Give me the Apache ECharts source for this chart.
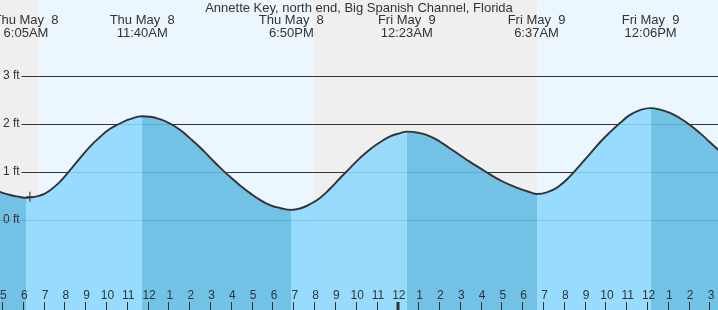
<!DOCTYPE html>
<html><head><meta charset="utf-8">
<script src="https://cdn.jsdelivr.net/npm/echarts@6/dist/echarts.min.js"></script>
<style>html,body{margin:0;padding:0;background:#fff}#c{width:718px;height:310px}</style>
</head><body><div id="c"></div>
<script>
// ---------------- data ----------------
const chartTitle = 'Annette Key, north end, Big Spanish Channel, Florida';
const extremeDays   = ['Thu May  8', 'Thu May  8', 'Thu May  8', 'Fri May  9', 'Fri May  9', 'Fri May  9'];
const extremeClocks = ['6:05AM', '11:40AM', '6:50PM', '12:23AM', '6:37AM', '12:06PM'];
const extremeTypes  = ['Low', 'High', 'Low', 'High', 'Low', 'High'];
const sunriseTimes  = [['Thu May  8', '6:42AM'], ['Fri May  9', '6:39AM']];
const sunsetTimes   = [['Thu May  8', '7:53PM']];
const midnightTicks = [['Fri May  9', '12:00AM']];
const feetTicks = [0, 1, 2, 3];
// hours since Thu May 8 00:00, tide height in ft
const curveHours = [4.80, 5.32, 5.80, 6.08, 6.76, 7.24, 7.72, 8.20, 8.68, 9.16, 9.64, 10.12, 10.60, 11.08, 11.67,
  12.04, 12.52, 13.00, 13.48, 13.97, 14.45, 14.93, 15.41, 15.89, 16.37, 16.85, 17.33, 17.81, 18.29, 18.83,
  19.25, 19.73, 20.21, 20.69, 21.17, 21.65, 22.13, 22.61, 23.10, 23.58, 24.06, 24.38,
  25.02, 25.50, 25.98, 26.46, 26.94, 27.42, 27.90, 28.38, 28.86, 29.34, 29.82, 30.30, 30.62,
  31.26, 31.74, 32.22, 32.70, 33.19, 33.67, 34.15, 34.63, 35.11, 35.59, 36.10,
  36.55, 37.03, 37.51, 37.99, 38.47, 38.95, 39.40];
const curveFeet = [0.59, 0.52, 0.48, 0.46, 0.51, 0.62, 0.80, 1.04, 1.29, 1.53, 1.73, 1.90, 2.01, 2.10, 2.16,
  2.15, 2.10, 2.01, 1.88, 1.70, 1.51, 1.30, 1.09, 0.90, 0.72, 0.56, 0.42, 0.31, 0.25, 0.21,
  0.24, 0.33, 0.46, 0.65, 0.87, 1.08, 1.29, 1.47, 1.62, 1.74, 1.81, 1.84,
  1.81, 1.74, 1.63, 1.49, 1.35, 1.21, 1.08, 0.95, 0.83, 0.73, 0.65, 0.58, 0.54,
  0.60, 0.72, 0.91, 1.14, 1.38, 1.62, 1.83, 2.02, 2.19, 2.29, 2.33,
  2.30, 2.23, 2.12, 1.98, 1.81, 1.62, 1.44];
const nowMarker = [[6.27, 0.485]];

// ---------------- helpers ----------------
function toHours(day, clock) {
  const d = /9\s*$/.test(day) ? 24 : 0;
  const m = clock.match(/(\d+):(\d+)(AM|PM)/);
  let h = (+m[1]) % 12; if (m[3] === 'PM') h += 12;
  return d + h + (+m[2]) / 60;
}
const extremeHours = extremeDays.map((d, i) => toHours(d, extremeClocks[i]));
const riseH = sunriseTimes.map(s => toHours(s[0], s[1]));
const setH = sunsetTimes.map(s => toHours(s[0], s[1]));
const midH = midnightTicks.map(s => toHours(s[0], s[1]));

// ---------------- layout ----------------
const W = 718, H = 310;
const viewStart = 4.834, viewEnd = 39.337;
const pxPerHour = W / (viewEnd - viewStart);
const axisMin = Math.floor(viewStart), axisMax = Math.ceil(viewEnd);
const gridLeft = -(viewStart - axisMin) * pxPerHour;
const gridRight = -(axisMax - viewEnd) * pxPerHour;
const yMin = -1.875, yMax = 4.583;
const tickLen = 8;

const nightColor = '#efefef', dayColor = '#ebf6ff';
const risingColor = 'rgb(140,216,255)', fallingColor = 'rgb(98,187,227)';
const textColor = '#333';
const fontFamily = '"Liberation Sans", Arial, sans-serif';

const bgAreas = [
  [{ xAxis: axisMin - 1, itemStyle: { color: nightColor } }, { xAxis: riseH[0] }],
  [{ xAxis: riseH[0], itemStyle: { color: dayColor } }, { xAxis: setH[0] }],
  [{ xAxis: setH[0], itemStyle: { color: nightColor } }, { xAxis: riseH[1] }],
  [{ xAxis: riseH[1], itemStyle: { color: dayColor } }, { xAxis: axisMax + 1 }]
];

const pieces = [{ lt: extremeHours[0], color: extremeTypes[0] === 'Low' ? fallingColor : risingColor }];
for (let i = 0; i < extremeHours.length - 1; i++) {
  pieces.push({ gte: extremeHours[i], lt: extremeHours[i + 1], color: extremeTypes[i] === 'Low' ? risingColor : fallingColor });
}
const lastI = extremeHours.length - 1;
pieces.push({ gte: extremeHours[lastI], color: extremeTypes[lastI] === 'Low' ? risingColor : fallingColor });

const curveData = curveHours.map((h, i) => [h, curveFeet[i]]);
const hourTicks = [];
for (let h = axisMin + 1; h < axisMax; h++) hourTicks.push([h]);
const hour12 = v => { const h = ((Math.round(v) % 12) + 12) % 12; return h === 0 ? '12' : String(h); };
const nearestExtreme = v => { let b = 0; extremeHours.forEach((h, i) => { if (Math.abs(h - v) < Math.abs(extremeHours[b] - v)) b = i; }); return b; };

const chart = echarts.init(document.getElementById('c'), null, { renderer: 'canvas' });
chart.setOption({
  animation: false,
  textStyle: { fontFamily },
  title: { text: chartTitle, left: 'center', top: 2, padding: 0,
    textStyle: { fontSize: 13, fontWeight: 'normal', color: textColor, fontFamily } },
  grid: { left: gridLeft, right: gridRight, top: 0, bottom: 0, containLabel: false, outerBoundsMode: 'none' },
  xAxis: [
    { type: 'value', min: axisMin, max: axisMax, interval: 1, position: 'bottom', z: 10,
      axisLine: { show: false, onZero: false }, splitLine: { show: false }, axisTick: { show: false },
      axisLabel: { inside: true, margin: 8, fontSize: 12, color: textColor, fontFamily, formatter: hour12,
        showMinLabel: true, showMaxLabel: true, hideOverlap: false } },
    { type: 'value', min: axisMin, max: axisMax, position: 'top', z: 10,
      axisLine: { show: false, onZero: false }, splitLine: { show: false }, axisTick: { show: false },
      axisLabel: { customValues: extremeHours, inside: true, margin: 14, verticalAlign: 'top',
        fontSize: 13, lineHeight: 13, color: textColor, fontFamily, align: 'center',
        formatter: v => { const i = nearestExtreme(v); return extremeDays[i] + '\n' + extremeClocks[i]; } } }
  ],
  yAxis: {
    type: 'value', min: yMin, max: yMax, position: 'left', z: 10,
    axisLine: { show: false, onZero: false }, axisTick: { show: false }, splitLine: { show: false },
    axisLabel: { customValues: feetTicks, inside: true, margin: -gridLeft, align: 'left',
      formatter: v => (v === 0 ? '{f|' : '{n|') + v + ' ft}',
      rich: {
        n: { fontSize: 12, color: textColor, fontFamily, backgroundColor: nightColor, padding: [1, 2, 1, 3] },
        f: { fontSize: 12, color: textColor, fontFamily, padding: [1, 2, 1, 3] }
      } }
  },
  visualMap: { type: 'piecewise', show: false, dimension: 0, seriesIndex: 1, pieces },
  series: [
    { name: 'grid', type: 'line', data: [], silent: true, z: 1,
      markArea: { silent: true, z: 0, data: bgAreas },
      markLine: { silent: true, z: 1, symbol: ['none', 'none'], label: { show: false },
        lineStyle: { color: textColor, width: 1, type: 'solid' }, emphasis: { disabled: true },
        data: feetTicks.map(v => ({ yAxis: v })) } },
    { name: 'fill', type: 'line', data: curveData, smooth: 0.5,
      showSymbol: false, silent: true, z: 2, lineStyle: { width: 0 }, areaStyle: { origin: 'start', opacity: 0.88 } },
    { name: 'tide', type: 'line', data: curveData, smooth: 0.5,
      showSymbol: false, silent: true, z: 3, lineStyle: { color: '#333', width: 1.9 } },
    { name: 'now', type: 'scatter', data: nowMarker, silent: true, z: 4,
      symbol: 'path://M0,4.5H8M4,0V9', symbolSize: [8, 10],
      itemStyle: { color: 'none', borderColor: '#333', borderWidth: 1.5 } },
    { name: 'ticks', type: 'custom', data: hourTicks, silent: true, z: 10, clip: false,
      renderItem: (params, api) => {
        const h = api.value(0);
        const p = api.coord([h, yMin]);
        const thick = midH.some(m => Math.abs(m - h) < 1e-6);
        const x = thick ? Math.round(p[0] - 1) : Math.floor(p[0]) - 0.5;
        return { type: 'line', shape: { x1: x, y1: p[1], x2: x, y2: p[1] - tickLen },
          style: { stroke: textColor, lineWidth: thick ? 3 : 1 } };
      } }
  ]
});
</script></body></html>
